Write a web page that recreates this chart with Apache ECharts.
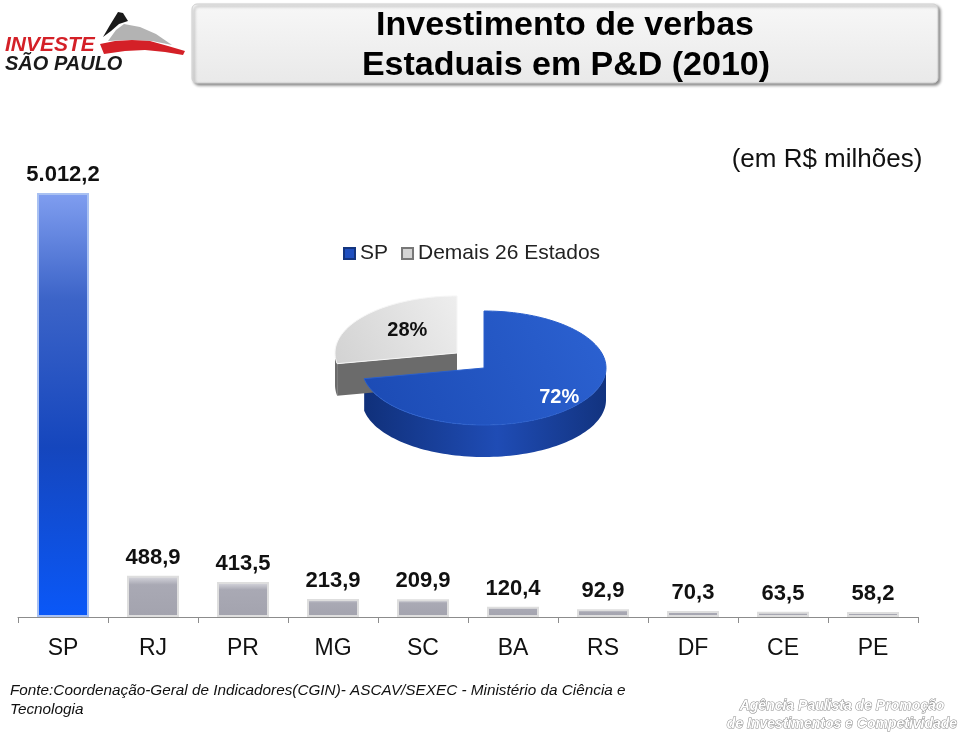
<!DOCTYPE html>
<html><head><meta charset="utf-8">
<script src="https://cdn.jsdelivr.net/npm/echarts@6/dist/echarts.min.js"></script>
<style>html,body{margin:0;padding:0;background:#fff}#c{width:960px;height:736px}</style>
</head><body><div id="c"></div>
<script>
// ---- data ----
const categories = ['SP','RJ','PR','MG','SC','BA','RS','DF','CE','PE'];
const investment = [5012.2, 488.9, 413.5, 213.9, 209.9, 120.4, 92.9, 70.3, 63.5, 58.2];
const pieNames = ['SP', 'Demais 26 Estados'];
const pieValues = [72, 28];

// ---- helpers ----
const FONT = "'Liberation Sans', Arial, Helvetica, sans-serif";
const G = echarts.graphic;
function fmtBR(v){
  const s = v.toFixed(1).split('.');
  const int = s[0].replace(/\B(?=(\d{3})+(?!\d))/g, '.');
  return int + ',' + s[1];
}
const blueBar = {
  color: new G.LinearGradient(0,0,0,1,[
    {offset:0,color:'#809ef0'},{offset:0.25,color:'#3c64c8'},
    {offset:0.6,color:'#1546bd'},{offset:1,color:'#0a58f8'}]),
  borderColor:'#a9c1f2', borderWidth:2
};
const grayBar = {
  color: new G.LinearGradient(0,0,0,1,[
    {offset:0,color:'#dcdce2'},{offset:0.22,color:'#a9a9b4'},
    {offset:1,color:'#a3a3ae'}]),
  borderColor:'#dedede', borderWidth:2
};

// ---- pie (3D look) style ----
const pieGeo = {cx:484, cy:368, rx:122, ry:57, depth:32};
const pieExplode = [[0,0],[-27,-15]];
const pieTopFill = [
  () => new G.LinearGradient(0,1,1,0,[{offset:0,color:'#1b4ab3'},{offset:1,color:'#2c62d2'}]),
  () => new G.LinearGradient(0,1,1,0,[{offset:0,color:'#d2d2d2'},{offset:1,color:'#eeeeee'}])
];
const pieSideFill = [
  () => new G.LinearGradient(0,0,1,0,[{offset:0,color:'#10307a'},{offset:0.55,color:'#1f4cb5'},{offset:1,color:'#12337f'}]),
  () => '#6b6b6b'
];
const pieLabelColor = ['#ffffff', '#111111'];
const pieLabelR = [0.8, 0.56];

function renderPie(idx){
  return function(params, api){
    const total = pieValues.reduce((a,b)=>a+b,0);
    let before = 0; for (let k=0;k<idx;k++) before += pieValues[k];
    const v = api.value(0);
    const a0 = -90 + before/total*360, a1 = a0 + v/total*360;
    const cx = pieGeo.cx + pieExplode[idx][0], cy = pieGeo.cy + pieExplode[idx][1];
    const d = pieGeo.depth, rad = Math.PI/180;
    const pt = (a, dy) => [cx + pieGeo.rx*Math.cos(a*rad), cy + pieGeo.ry*Math.sin(a*rad) + (dy||0)];
    const arc = (s, e, dy) => { const n = Math.max(2, Math.ceil(Math.abs(e-s)/2)); const out=[]; for (let i=0;i<=n;i++) out.push(pt(s+(e-s)*i/n, dy)); return out; };
    const children = [];
    const f0 = Math.max(a0, 0), f1 = Math.min(a1, 180);
    if (f1 > f0) {
      const pts = arc(f0, f1, 0).concat(arc(f1, f0, d));
      children.push({type:'polygon', z2:1, shape:{points:pts}, style:{fill:pieSideFill[idx]()}});
    }
    const face = (a) => { const e = pt(a,0); return [[cx,cy],e,[e[0],e[1]+d],[cx,cy+d]]; };
    if (Math.cos(a0*rad) < -0.01) children.push({type:'polygon', z2:1, shape:{points:face(a0)}, style:{fill:pieSideFill[idx]()}});
    if (Math.cos(a1*rad) > 0.01) children.push({type:'polygon', z2:1, shape:{points:face(a1)}, style:{fill:pieSideFill[idx]()}});
    const topPts = [[cx,cy]].concat(arc(a0, a1, 0));
    children.push({type:'polygon', z2:5, shape:{points:topPts}, style:{fill:pieTopFill[idx](), stroke: idx===1?'#f6f6f6':'#2a5fcc', lineWidth:1}});
    const m = (a0+a1)/2*rad, f = pieLabelR[idx];
    children.push({type:'text', z2:10, x: cx + f*pieGeo.rx*Math.cos(m) + (idx===1?3:0), y: cy + f*pieGeo.ry*Math.sin(m) + (idx===1?-2:0),
      style:{text: v + '%', fill: pieLabelColor[idx], font: 'bold 20px ' + FONT, align:'center', verticalAlign:'middle'}});
    return {type:'group', children};
  };
}

const chart = echarts.init(document.getElementById('c'), null, {renderer:'canvas'});
const option = {
  animation:false,
  backgroundColor:'#ffffff',
  textStyle:{fontFamily:FONT},
  grid:{left:18, right:42, top:193, bottom:119, containLabel:false},
  xAxis:{
    type:'category', data:categories,
    axisLine:{lineStyle:{color:'#8c8c8c', width:1}},
    axisTick:{show:true, length:6, lineStyle:{color:'#8c8c8c'}},
    axisLabel:{fontSize:23, color:'#111', margin:20, fontFamily:FONT}
  },
  yAxis:{type:'value', min:0, max:5012.2, show:false},
  legend:{
    data:[{name:pieNames[0], icon:'rect'},{name:pieNames[1], icon:'rect'}],
    left:343, top:243, padding:0, itemWidth:11, itemHeight:11, itemGap:13,
    textStyle:{fontSize:21, color:'#222', fontFamily:FONT}, selectedMode:false
  },
  series:[
    {
      type:'bar', name:'Investimento', barWidth:52,
      data: investment.map((v,i)=>({value:v, itemStyle: i===0 ? blueBar : grayBar})),
      label:{show:true, position:'top', distance:7, fontSize:22, fontWeight:'bold', color:'#111', fontFamily:FONT,
        formatter: p => fmtBR(p.value)}
    },
    {type:'custom', name:pieNames[0], coordinateSystem:'none', data:[[pieValues[0]]], renderItem:renderPie(0),
      itemStyle:{color:'#1f4fbf', borderColor:'#14357f', borderWidth:1}, z:3},
    {type:'custom', name:pieNames[1], coordinateSystem:'none', data:[[pieValues[1]]], renderItem:renderPie(1),
      itemStyle:{color:'#d4d4d4', borderColor:'#777', borderWidth:1}, z:3}
  ],
  graphic:[
    // title box
    {type:'rect', shape:{x:192,y:4,width:746,height:79,r:5}, z:1,
      style:{fill:new G.LinearGradient(0,0,0,1,[{offset:0,color:'#f7f7f7'},{offset:1,color:'#e9e9e9'}]),
        stroke:'#d0d0d0', lineWidth:1, shadowBlur:3, shadowColor:'rgba(0,0,0,0.45)', shadowOffsetX:2, shadowOffsetY:2}},
    {type:'text', x:565, y:26, z:2, style:{text:'Investimento de verbas', font:'bold 34px '+FONT, fill:'#000', align:'center', verticalAlign:'middle'}},
    {type:'text', x:566, y:66, z:2, style:{text:'Estaduais em P&D (2010)', font:'bold 34px '+FONT, fill:'#000', align:'center', verticalAlign:'middle'}},
    // logo
    {type:'polygon', z:2, shape:{points:[[103,37],[110,25],[118,12],[123,13],[128,21],[119,24],[111,31]]}, style:{fill:'#1a1a1a'}},
    {type:'polygon', z:2, shape:{points:[[108,41],[116,30],[124,24],[140,27],[156,34],[172,45],[152,41],[128,40]]}, style:{fill:'#b3b3b3'}},
    {type:'polygon', z:2, shape:{points:[[100,44],[115,41],[132,40],[150,41],[168,46],[185,51],[183,55],[165,52],[145,50],[125,51],[104,54]]}, style:{fill:'#d42027'}},
    {type:'text', x:5, y:45, z:3, style:{text:'INVESTE', font:'italic bold 21px '+FONT, fill:'#d42027', align:'left', verticalAlign:'middle'}},
    {type:'text', x:5, y:64, z:3, style:{text:'SÃO PAULO', font:'italic bold 20px '+FONT, fill:'#1a1a1a', align:'left', verticalAlign:'middle'}},
    // unit
    {type:'text', x:827, y:160, style:{text:'(em R$ milhões)', font:'26px '+FONT, fill:'#111', align:'center', verticalAlign:'middle'}},
    // footer
    {type:'text', x:10, y:691, style:{text:'Fonte:Coordenação-Geral de Indicadores(CGIN)- ASCAV/SEXEC - Ministério da Ciência e', font:'italic 15.3px '+FONT, fill:'#111', align:'left', verticalAlign:'middle'}},
    {type:'text', x:10, y:710, style:{text:'Tecnologia', font:'italic 15.3px '+FONT, fill:'#111', align:'left', verticalAlign:'middle'}},
    {type:'text', x:842, y:706, style:{text:'Agência Paulista de Promoção', font:'italic bold 14px '+FONT, fill:'#ffffff', stroke:'#8a8a8a', lineWidth:1, align:'center', verticalAlign:'middle'}},
    {type:'text', x:842, y:724, style:{text:'de Investimentos e Competividade', font:'italic bold 14px '+FONT, fill:'#ffffff', stroke:'#8a8a8a', lineWidth:1, align:'center', verticalAlign:'middle'}}
  ]
};
chart.setOption(option);
</script>
</body></html>
